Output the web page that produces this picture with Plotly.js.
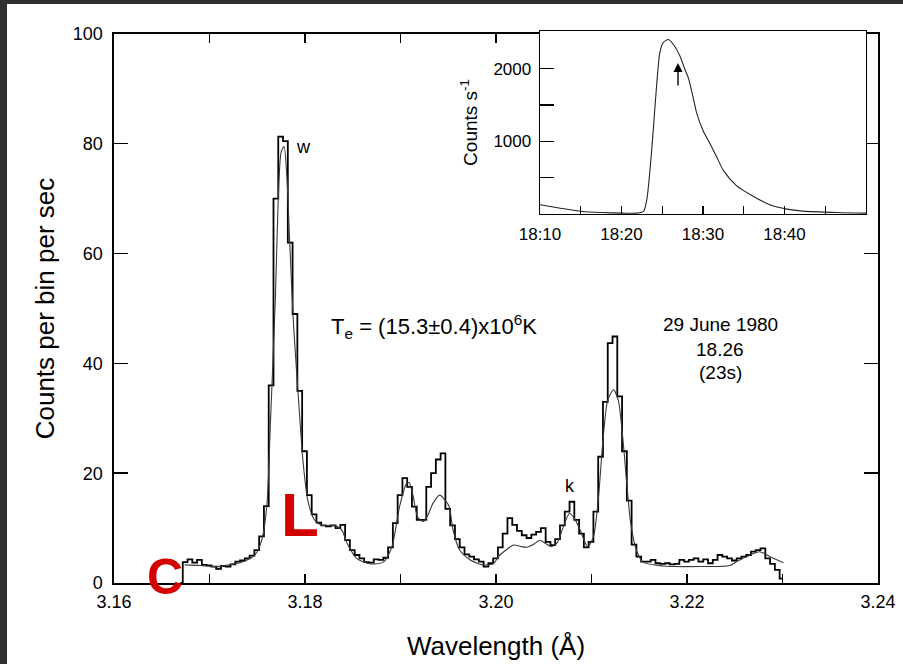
<!DOCTYPE html>
<html><head><meta charset="utf-8">
<script src="https://cdn.plot.ly/plotly-3.0.1.min.js"></script>
<style>
html,body{margin:0;padding:0;background:#303030;width:903px;height:664px;overflow:hidden}
#plot{position:absolute;left:7px;top:4px;width:896px;height:660px;background:#fff}
</style>
</head><body><div id="plot"></div>
<script>
// Histogram: counts per bin (bin width 0.0005 Å), first bin centre 3.16695 Å
const binStart = 3.16695;
const binWidth = 0.0005;
const binCounts = [
  0,
  3.8, 4.3, 3.7, 4.2, 3.3, 3.2, 3.0, 2.6, 3.1, 3.0,
  3.4, 3.9, 4.1, 4.5, 5.0, 6.0, 8.5, 14, 36, 70,
  81.3, 80.5, 62, 49, 35, 24, 16, 12.5, 11, 10.5,
  10.3, 10.5, 10.0, 10.6, 7.8, 6.0, 5.1, 4.5, 3.8, 3.7,
  4.3, 4.2, 4.6, 6.5, 10.9, 16, 19.1, 17.5, 13.9, 11.5,
  11.5, 17.5, 20, 22.5, 23.6, 13.5, 10.5, 8.0, 6.5, 5.2,
  4.8, 4.3, 3.9, 3.0, 3.6, 4.5, 6.5, 9.0, 11.8, 10.6,
  9.5, 8.7, 8.2, 8.8, 9.3, 10.0, 7.5, 6.9, 8.0, 10.5,
  13, 14.8, 11.5, 9.0, 6.5, 7.5, 13, 23, 33, 43.7,
  44.9, 34, 24, 15, 7, 4.8, 3.9, 3.9, 4.2, 3.6,
  3.5, 3.6, 3.4, 3.5, 4.2, 3.9, 4.2, 4.5, 3.9, 4.3,
  3.6, 4.2, 5.1, 4.8, 4.5, 4.1, 4.5, 4.8, 5.1, 5.7,
  6.0, 6.3, 4.5, 3.5, 2.4, 0.8
];

// Fitted synthetic spectrum
const fitWavelength = [
  3.1674, 3.1690, 3.1706, 3.1721, 3.1737, 3.1748, 3.1755, 3.1760, 3.1764, 3.1769,
  3.1772, 3.1775, 3.1778, 3.1781, 3.1784, 3.1788, 3.1793, 3.1798, 3.1803, 3.1810,
  3.1818, 3.1826, 3.1834, 3.1839, 3.1844, 3.1854, 3.1868, 3.1882, 3.1891, 3.1899,
  3.1906, 3.1909, 3.1913, 3.1918, 3.1924, 3.1929, 3.1934, 3.1941, 3.1947, 3.1951,
  3.1955, 3.1962, 3.1973, 3.1986, 3.1997, 3.2004, 3.2012, 3.2018, 3.2025, 3.2032,
  3.2039, 3.2046, 3.2052, 3.2058, 3.2064, 3.2070, 3.2077, 3.2083, 3.2088, 3.2096,
  3.2102, 3.2107, 3.2112, 3.2117, 3.2123, 3.2128, 3.2133, 3.2137, 3.2141, 3.2147,
  3.2154, 3.2175, 3.2214, 3.2245, 3.2252, 3.2266, 3.2276, 3.2287, 3.2301
];
const fitCounts = [
  3.3, 3.2, 3.0, 3.3, 4.0, 5.2, 8, 14, 30, 52,
  70, 78.5, 79.5, 74, 62, 47, 34, 22, 15, 11.5,
  10.5, 10.5, 10.3, 9.5, 7.3, 4.5, 3.5, 3.8, 6.6, 13.9,
  18.0, 18.3, 16, 12, 11.2, 12.5, 14.5, 16, 15, 13.9,
  9.7, 6, 4.2, 3.3, 3.5, 5.1, 6.2, 6.9, 6.7, 6.5,
  7.0, 7.8, 7.2, 6.6, 7.3, 10, 12.7, 11.5, 9.7, 6.6,
  8.4, 15, 26, 33.3, 35.2, 33.3, 26, 18, 11, 6,
  3.8, 3.1, 3.0, 3.2, 3.9, 5.1, 5.7, 4.8, 3.7
];

// Inset light curve
const insetTime = [
  '1980-06-29 18:10:00','1980-06-29 18:12:30','1980-06-29 18:15:06','1980-06-29 18:17:30',
  '1980-06-29 18:20:12','1980-06-29 18:21:54','1980-06-29 18:22:42','1980-06-29 18:23:06',
  '1980-06-29 18:23:30','1980-06-29 18:23:54','1980-06-29 18:24:18','1980-06-29 18:24:42',
  '1980-06-29 18:25:06','1980-06-29 18:25:45','1980-06-29 18:26:22','1980-06-29 18:27:11',
  '1980-06-29 18:27:47','1980-06-29 18:28:12','1980-06-29 18:28:48','1980-06-29 18:29:12',
  '1980-06-29 18:30:00','1980-06-29 18:30:54','1980-06-29 18:31:42','1980-06-29 18:32:30',
  '1980-06-29 18:34:06','1980-06-29 18:36:12','1980-06-29 18:38:12','1980-06-29 18:40:18',
  '1980-06-29 18:42:18','1980-06-29 18:46:24','1980-06-29 18:50:00'
];
const insetRate = [
  127, 80, 35, 20,
  12, 12, 35, 196,
  610, 1160, 1760, 2220,
  2357, 2403, 2334, 2172,
  1989, 1874, 1600, 1400,
  1150, 960, 780, 600,
  390, 241, 127, 67,
  40, 21, 12
];

const xTickVals = [3.16, 3.18, 3.20, 3.22, 3.24];
const xTickText = ['3.16', '3.18', '3.20', '3.22', '3.24'];
const xMinorVals = [3.17, 3.19, 3.21, 3.23];
const yTickVals = [0, 20, 40, 60, 80, 100];
const insetTickVals = ['1980-06-29 18:10','1980-06-29 18:20','1980-06-29 18:30','1980-06-29 18:40'];
const insetTickText = ['18:10','18:20','18:30','18:40'];
const insetMinorVals = ['1980-06-29 18:15','1980-06-29 18:25','1980-06-29 18:35','1980-06-29 18:45'];
const insetYTickVals = [1000, 2000];
const insetYMinorVals = [500, 1500];

const FONT = 'Liberation Sans, Arial, Helvetica, sans-serif';

const traces = [
  {type:'scatter', mode:'lines', x0: binStart, dx: binWidth, y: binCounts,
   line:{shape:'hvh', color:'#000', width:1.8}, xaxis:'x', yaxis:'y', hoverinfo:'skip'},
  {type:'scatter', mode:'lines', x: fitWavelength, y: fitCounts,
   line:{shape:'spline', smoothing:0.7, color:'#3a3a3a', width:1.1}, xaxis:'x', yaxis:'y', hoverinfo:'skip'},
  {type:'scatter', mode:'lines', x: insetTime, y: insetRate,
   line:{shape:'spline', smoothing:0.7, color:'#222', width:1.1}, xaxis:'x2', yaxis:'y2', hoverinfo:'skip'}
];

const layout = {
  width: 896, height: 660,
  margin: {l:107, r:25, t:27, b:81},
  paper_bgcolor:'#fff', plot_bgcolor:'#fff',
  showlegend:false,
  font:{family:FONT, color:'#000', size:18},
  xaxis:{
    domain:[0,1], anchor:'y', range:[3.16,3.24],
    tickvals:xTickVals, ticktext:xTickText,
    ticks:'inside', ticklen:9, tickwidth:1.4, tickcolor:'#000',
    minor:{tickvals:xMinorVals, ticks:'inside', ticklen:9, tickwidth:1.4, tickcolor:'#000', showgrid:false},
    showline:true, linecolor:'#000', linewidth:1.6, mirror:'ticks',
    showgrid:false, zeroline:false, tickfont:{size:18, family:FONT}, ticklabelstandoff:2,
    title:{text:'Wavelength (Å)', font:{size:26, family:FONT}, standoff:25}
  },
  yaxis:{
    domain:[0,0.99457], anchor:'x', range:[0,100],
    tickvals:yTickVals,
    ticks:'inside', ticklen:14, tickwidth:1.4, tickcolor:'#000',
    showline:true, linecolor:'#000', linewidth:1.6, mirror:'ticks',
    showgrid:false, zeroline:false, tickfont:{size:18, family:FONT}, ticklabelstandoff:6,
    title:{text:'Counts per bin per sec', font:{size:26, family:FONT}, standoff:10}
  },
  xaxis2:{
    domain:[0.5576,0.9843], anchor:'y2', type:'date',
    range:['1980-06-29 18:10','1980-06-29 18:50'],
    tickvals:insetTickVals, ticktext:insetTickText,
    ticks:'inside', ticklen:8, tickwidth:1.2, tickcolor:'#000',
    minor:{tickvals:insetMinorVals, ticks:'inside', ticklen:8, tickwidth:1.2, tickcolor:'#000', showgrid:false},
    showline:true, linecolor:'#000', linewidth:1.4, mirror:true,
    showgrid:false, zeroline:false, tickfont:{size:17, family:FONT}, ticklabelstandoff:4
  },
  yaxis2:{
    domain:[0.6685,1], anchor:'x2', range:[0,2520],
    tickvals:insetYTickVals,
    ticks:'inside', ticklen:14, tickwidth:1.2, tickcolor:'#000',
    minor:{tickvals:insetYMinorVals, ticks:'inside', ticklen:14, tickwidth:1.2, tickcolor:'#000', showgrid:false},
    showline:true, linecolor:'#000', linewidth:1.4, mirror:true,
    showgrid:false, zeroline:false, tickfont:{size:17, family:FONT}, ticklabelstandoff:4,
    title:{text:'Counts s<sup>-1</sup>', font:{size:19, family:FONT}, standoff:10}
  },
  annotations:[
    {xref:'x', yref:'y', x:3.1798, y:79.4, text:'w', showarrow:false, font:{size:18}},
    {xref:'x', yref:'y', x:3.2078, y:17.7, text:'k', showarrow:false, font:{size:18}},
    {xref:'x', yref:'y', x:3.1935, y:46.8, text:'T<sub>e</sub> = (15.3±0.4)x10<sup>6</sup>K', showarrow:false, font:{size:22}},
    {xref:'x', yref:'y', x:3.2235, y:47.0, text:'29 June 1980', showarrow:false, font:{size:19}},
    {xref:'x', yref:'y', x:3.2235, y:42.6, text:'18.26', showarrow:false, font:{size:19}},
    {xref:'x', yref:'y', x:3.2235, y:38.4, text:'(23s)', showarrow:false, font:{size:19}},
    {xref:'x', yref:'y', x:3.1653, y:1.1, text:'<b>C</b>', showarrow:false, font:{size:50, color:'#d40000', family:FONT}},
    {xref:'x', yref:'y', x:3.1795, y:12.4, text:'<b>L</b>', showarrow:false, font:{size:62, color:'#d40000', family:FONT}},
    {xref:'x2', yref:'y2', x:'1980-06-29 18:26:56', y:2080, text:'', showarrow:true,
     ax:0, ay:24, arrowhead:2, arrowsize:1.3, arrowwidth:1.4, arrowcolor:'#000'}
  ]
};

Plotly.newPlot('plot', traces, layout, {staticPlot:true, displayModeBar:false});
</script>
</body></html>
